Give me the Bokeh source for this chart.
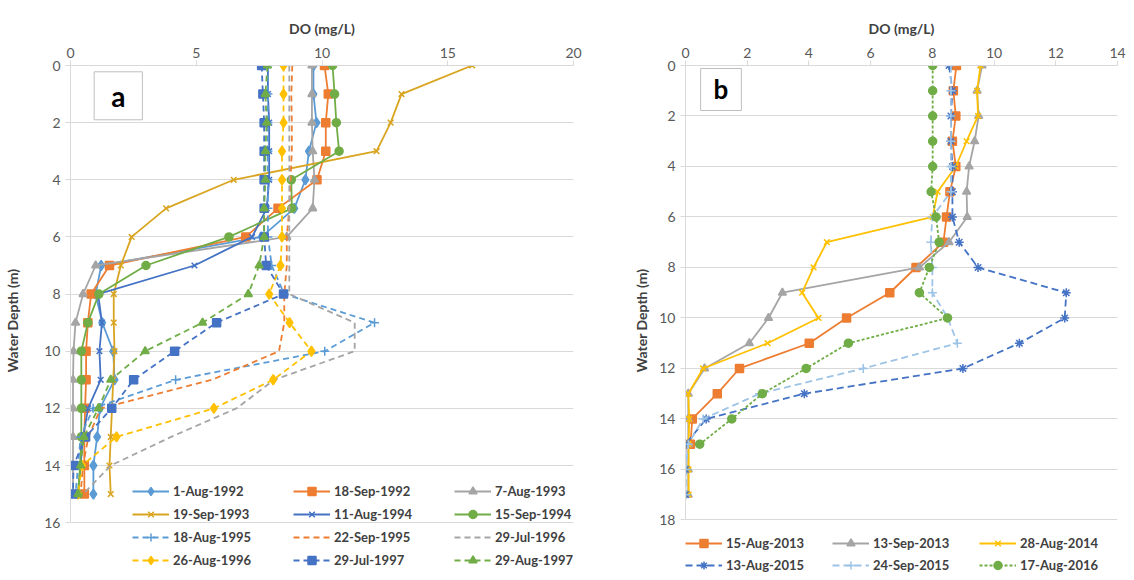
from bokeh.plotting import figure
from bokeh.layouts import row
from bokeh.models import Range1d, FixedTicker, Legend, LegendItem, Label
from bokeh.embed import file_html
from bokeh.resources import INLINE

FONT = "Lato"

# ---------------- Panel a data (depth 0..15 m) ----------------
depth_a = [0, 1, 2, 3, 4, 5, 6, 7, 8, 9, 10, 11, 12, 13, 14, 15]
do_1aug1992 = [9.66, 9.66, 9.78, 9.48, 9.34, 8.9, 7.6, 1.22, 1.0, 1.26, 1.7, 1.75, 1.17, 1.06, 0.91, 0.91]
do_18sep1992 = [10.1, 10.25, 10.15, 10.15, 9.8, 8.25, 6.97, 1.55, 0.82, 0.69, 0.62, 0.62, 0.58, 0.55, 0.55, 0.55]
do_7aug1993 = [9.6, 9.6, 9.6, 9.63, 9.7, 9.63, 8.6, 1.0, 0.5, 0.2, 0.12, 0.1, 0.1, 0.1, 0.1, 0.1]
do_19sep1993 = [15.97, 13.16, 12.73, 12.17, 6.49, 3.8, 2.43, 2.0, 1.72, 1.72, 1.75, 1.7, 1.65, 1.6, 1.55, 1.6]
do_11aug1994 = [7.85, 7.85, 7.9, 7.9, 7.9, 7.8, 7.22, 4.93, 1.1, 1.25, 1.15, 1.2, 0.7, 0.5, 0.4, 0.3]
do_15sep1994 = [10.42, 10.5, 10.57, 10.68, 8.78, 8.8, 6.3, 3.0, 1.13, 0.69, 0.43, 0.43, 0.43, 0.43, 0.38, 0.3]
do_18aug1995 = [7.85, 7.85, 7.85, 7.85, 7.85, 7.85, 7.85, 8.0, 8.5, 12.09, 10.11, 4.18, 0.9, 0.4, 0.3, 0.2]
do_22sep1995 = [8.82, 8.78, 8.8, 8.8, 8.75, 8.7, 8.6, 8.6, 8.5, 8.5, 8.29, 5.63, 1.2, 0.71, 0.5, 0.4]
do_29jul1996 = [8.7, 8.7, 8.7, 8.7, 8.7, 8.7, 8.7, 8.7, 8.7, 11.3, 11.3, 8.1, 6.6, 4.0, 1.6, 0.5]
do_26aug1996 = [8.47, 8.47, 8.47, 8.41, 8.41, 8.41, 8.41, 8.35, 7.9, 8.71, 9.58, 8.06, 5.7, 1.83, 0.46, 0.3]
do_29jul1997 = [7.6, 7.65, 7.7, 7.7, 7.7, 7.7, 7.7, 7.78, 8.47, 5.81, 4.14, 2.51, 1.64, 0.6, 0.12, 0.1]
do_29aug1997 = [7.83, 7.75, 7.8, 7.75, 7.75, 7.7, 7.7, 7.5, 7.07, 5.25, 2.97, 1.6, 1.11, 0.53, 0.4, 0.3]

labels_a = ["1-Aug-1992", "18-Sep-1992", "7-Aug-1993", "19-Sep-1993", "11-Aug-1994", "15-Sep-1994",
            "18-Aug-1995", "22-Sep-1995", "29-Jul-1996", "26-Aug-1996", "29-Jul-1997", "29-Aug-1997"]
values_a = [do_1aug1992, do_18sep1992, do_7aug1993, do_19sep1993, do_11aug1994, do_15sep1994,
            do_18aug1995, do_22sep1995, do_29jul1996, do_26aug1996, do_29jul1997, do_29aug1997]

# ---------------- Panel b data ----------------
depth_b18 = [0, 1, 2, 3, 4, 5, 6, 7, 8, 9, 10, 11, 12, 13, 14, 15, 16, 17]
depth_b16 = [0, 1, 2, 3, 4, 5, 6, 7, 8, 9, 10, 11, 12, 13, 14, 15]
do_15aug2013 = [8.78, 8.68, 8.76, 8.65, 8.76, 8.57, 8.46, 8.36, 7.47, 6.62, 5.22, 4.01, 1.75, 1.03, 0.22, 0.16]
do_13sep2013 = [9.61, 9.45, 9.5, 9.37, 9.19, 9.11, 9.13, 8.54, 7.58, 3.14, 2.69, 2.07, 0.62, 0.09, 0.09, 0.09, 0.09, 0.09]
do_28aug2014 = [9.56, 9.45, 9.48, 9.11, 8.76, 8.17, 8.01, 4.58, 4.15, 3.78, 4.31, 2.66, 0.57, 0.09, 0.12, 0.1, 0.1, 0.1]
do_13aug2015 = [8.54, 8.65, 8.6, 8.6, 8.65, 8.65, 8.65, 8.87, 9.48, 12.34, 12.29, 10.82, 8.99, 3.85, 0.67, 0.0, 0.0, 0.0]
do_24sep2015 = [8.6, 8.6, 8.6, 8.6, 8.6, 8.6, 8.0, 7.95, 8.0, 8.0, 8.5, 8.81, 5.76, 2.4, 0.57, 0.09, 0.0, 0.0]
do_17aug2016 = [8.01, 8.01, 8.01, 8.01, 8.01, 7.96, 8.12, 8.22, 7.9, 7.58, 8.49, 5.28, 3.91, 2.49, 1.5, 0.46]

labels_b = ["15-Aug-2013", "13-Sep-2013", "28-Aug-2014", "13-Aug-2015", "24-Sep-2015", "17-Aug-2016"]
values_b = [do_15aug2013, do_13sep2013, do_28aug2014, do_13aug2015, do_24sep2015, do_17aug2016]
depths_b = [depth_b16, depth_b18, depth_b18, depth_b18, depth_b18, depth_b16]

BLUE = "#5B9BD5"
ORANGE = "#ED7D31"
GRAY = "#A5A5A5"
GOLD = "#FFC000"
DGOLD = "#D9A520"
DBLUE = "#4472C4"
GREEN = "#70AD47"
LBLUE = "#9DC3E6"

style_a = [
    (BLUE, "solid", "diamond", 10),
    (ORANGE, "solid", "square", 8),
    (GRAY, "solid", "triangle", 8),
    (DGOLD, "solid", "x", 8),
    (DBLUE, "solid", "x", 8),
    (GREEN, "solid", "circle", 8),
    (BLUE, "6 4", "cross", 9),
    (ORANGE, "6 4", None, 0),
    (GRAY, "6 4", None, 0),
    (GOLD, "6 4", "diamond", 10),
    (DBLUE, "6 4", "square", 8),
    (GREEN, "6 4", "triangle", 8),
]
style_b = [
    (ORANGE, "solid", "square", 8),
    (GRAY, "solid", "triangle", 8),
    (GOLD, "solid", "x", 8),
    (DBLUE, "7 4", "asterisk", 9),
    (LBLUE, "7 4", "cross", 9),
    (GREEN, "3 2", "circle", 8),
]


def style_axes(p, xticks, yticks, ybounds):
    p.xaxis.ticker = FixedTicker(ticks=xticks)
    p.yaxis.ticker = FixedTicker(ticks=yticks)
    p.yaxis.bounds = ybounds
    for ax in (p.xaxis[0], p.yaxis[0]):
        ax.axis_line_color = "#D9D9D9"
        ax.major_tick_line_color = "#D9D9D9"
        ax.major_tick_in = 0
        ax.major_tick_out = 5
        ax.minor_tick_line_color = None
        ax.major_label_text_font = FONT
        ax.major_label_text_font_size = "14px"
        ax.major_label_text_color = "#595959"
        ax.axis_label_text_font = FONT
        ax.axis_label_text_font_size = "14px"
        ax.axis_label_text_font_style = "bold"
        ax.axis_label_text_color = "#404040"
    p.xgrid.visible = False
    p.ygrid.grid_line_color = "#D9D9D9"
    p.ygrid.grid_line_width = 1
    p.outline_line_color = None
    p.xaxis.axis_label = "DO (mg/L)"
    p.yaxis.axis_label = "Water Depth (m)"
    p.xaxis.axis_label_standoff = 8
    p.xaxis.major_label_standoff = 3


def add_series(p, xs_list, ys_list, labels, styles):
    items = []
    for xs, ys, lab, (c, dash, marker, size) in zip(xs_list, ys_list, labels, styles):
        rs = [p.line(xs, ys, line_color=c, line_width=1.8, line_dash=dash)]
        if marker is not None:
            rs.append(p.scatter(xs, ys, marker=marker, size=size, fill_color=c, line_color=c, line_width=1.5))
        items.append(LegendItem(label=lab, renderers=rs))
    return items


# ---------------- Figure a ----------------
# frame: depth 0 at y=62 px, depth 16 at y=522 px; frame extended below so the legend fits inside it
pa = figure(width=600, height=580, x_axis_location="above", output_backend="svg", toolbar_location=None,
            x_range=Range1d(0, 20), y_range=Range1d(17.85, 0),
            min_border_left=70, min_border_right=27, min_border_top=62, min_border_bottom=5)
style_axes(pa, [0, 5, 10, 15, 20], [0, 2, 4, 6, 8, 10, 12, 14, 16], (0, 16))
pa.yaxis.axis_label_standoff = 20
items_a = add_series(pa, values_a, [depth_a] * 12, labels_a, style_a)
leg_a = Legend(items=items_a, ncols=3, location=(62, 5), orientation="horizontal",
               glyph_width=37, glyph_height=20, label_height=20, label_width=117, spacing=3,
               label_standoff=4, padding=0, margin=0, border_line_color=None,
               background_fill_alpha=0, label_text_font=FONT, label_text_font_size="13px",
               label_text_font_style="bold", label_text_color="#404040")
pa.add_layout(leg_a, "center")
pa.add_layout(Label(x=1.9, y=1.06, text="a", text_align="center", text_baseline="middle",
                    text_font=FONT, text_font_size="28px", text_font_style="bold", text_color="#000000",
                    border_line_color="#BFBFBF", background_fill_color="white", padding=(17, 17, 7, 7)))

# ---------------- Figure b ----------------
pb = figure(width=534, height=580, x_axis_location="above", output_backend="svg", toolbar_location=None,
            x_range=Range1d(0, 14), y_range=Range1d(20.2, 0),
            min_border_left=85, min_border_right=17, min_border_top=65, min_border_bottom=2)
style_axes(pb, [0, 2, 4, 6, 8, 10, 12, 14], [0, 2, 4, 6, 8, 10, 12, 14, 16, 18], (0, 18))
pb.yaxis.axis_label_standoff = 6
items_b = add_series(pb, values_b, depths_b, labels_b, style_b)
leg_b = Legend(items=items_b, ncols=3, location=(0, 0), orientation="horizontal",
               glyph_width=37, glyph_height=20, label_height=20, label_width=104, spacing=2,
               label_standoff=4, padding=0, margin=0, border_line_color=None,
               background_fill_alpha=0, label_text_font=FONT, label_text_font_size="13px",
               label_text_font_style="bold", label_text_color="#404040")
pb.add_layout(leg_b, "center")
pb.add_layout(Label(x=1.15, y=0.95, text="b", text_align="center", text_baseline="middle",
                    text_font=FONT, text_font_size="26px", text_font_style="bold", text_color="#000000",
                    border_line_color="#BFBFBF", background_fill_color="white", padding=(13, 13, 5, 5)))

layout = row(pa, pb)
open("out.html", "w").write(file_html(layout, INLINE))
